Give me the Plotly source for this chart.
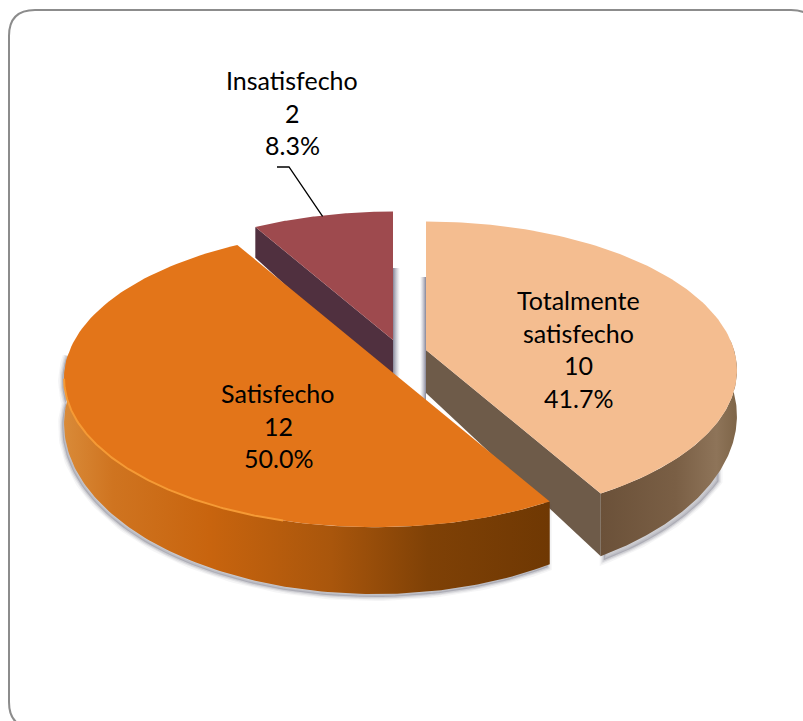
import math
import plotly.graph_objects as go

# --- data ---
categories = ["Totalmente satisfecho", "Satisfecho", "Insatisfecho"]
label_lines = [["Totalmente", "satisfecho"], ["Satisfecho"], ["Insatisfecho"]]
values = [10, 12, 2]

# --- projection of the tilted pie (pixel canvas) ---
W, H = 803, 721
RX, RY, K = 308, 146, 0.137
H0 = 43
tips = {"Totalmente satisfecho": (426, 350), "Satisfecho": (375, 358), "Insatisfecho": (393, 340)}

total = sum(values)
spans, start = {}, 0.0
for c, v in zip(categories, values):
    spans[c] = (start, start + 360.0 * v / total)
    start += 360.0 * v / total


def top(c, deg):
    t = math.radians(deg)
    u, v = math.sin(t), -math.cos(t)
    w = 1 - K * v
    return tips[c][0] + RX * u / w, tips[c][1] + RY * v / w


def depth(deg):
    v = -math.cos(math.radians(deg))
    return H0 / (1 - K * v) ** 3


def arc(c, a, b, n=120):
    return [a + (b - a) * i / n for i in range(n + 1)]


def poly(fig, pts, color=None, grad=None, line=None):
    xs = [p[0] for p in pts] + [pts[0][0]]
    ys = [p[1] for p in pts] + [pts[0][1]]
    kw = dict(x=xs, y=ys, mode="lines", fill="toself", hoverinfo="skip", showlegend=False,
              line=line or dict(width=0))
    if grad:
        kw["fillgradient"] = dict(type="horizontal", colorscale=grad)
    else:
        kw["fillcolor"] = color
    fig.add_trace(go.Scatter(**kw))


def shadow(fig, pts, dx, dy):
    xs = [p[0] + dx for p in pts] + [pts[0][0] + dx]
    ys = [p[1] + dy for p in pts] + [pts[0][1] + dy]
    for width, alpha in ((8, 0.05), (5, 0.08), (2.5, 0.12)):
        fig.add_trace(go.Scatter(x=xs, y=ys, mode="lines", hoverinfo="skip", showlegend=False,
                                 fill="toself", fillcolor=f"rgba(60,60,80,{alpha})",
                                 line=dict(color=f"rgba(60,60,80,{alpha})", width=width)))


def solid_outline(c, a, b):
    up = [top(c, d) for d in arc(c, a, b)]
    low = [(top(c, d)[0], top(c, d)[1] + depth(d)) for d in arc(c, a, b)]
    return up, low


fig = go.Figure()

# Insatisfecho (behind)
c = "Insatisfecho"
a, b = spans[c]
up, low = solid_outline(c, a, b)
tip = tips[c]
tipb = (tip[0], tip[1] + H0)
poly(fig, [(tip[0], tip[1] - 72), (tip[0] + 7, tip[1] - 72), (tip[0] + 7, tipb[1] - 8), (tip[0], tipb[1])],
     grad=[[0, "rgba(120,120,140,0.9)"], [1, "rgba(170,170,185,0)"]])
poly(fig, [up[0], tip, tipb, low[0]], color="#50303F")
poly(fig, up + [tip], color="#9E4A4E")

# Totalmente satisfecho
c = "Totalmente satisfecho"
a, b = spans[c]
tip = tips[c]
tipb = (tip[0], tip[1] + H0)
up, low = solid_outline(c, 86, b)
corner_b = low[-1]
poly(fig, [(tip[0] - 6, tip[1] - 73), (tip[0], tip[1] - 73), (tip[0], tipb[1] + 10), (tip[0] - 6, tipb[1] + 2)],
     grad=[[0, "rgba(170,170,185,0)"], [1, "rgba(120,120,140,0.9)"]])
shadow(fig, up[:60:-1][::-1] + low[::-1][:60], 3, 4)
poly(fig, up + low[::-1], grad=[[0, "#6B5139"], [0.55, "#7A5F45"], [0.85, "#8E7459"], [1, "#7E6548"]])
poly(fig, [tip, up[-1], corner_b, tipb], color="#6E5B49")
up_all = [top(c, d) for d in arc(c, a, b)]
poly(fig, up_all + [tip], color="#F4BD90")

# Satisfecho (front)
c = "Satisfecho"
a, b = spans[c]
up, low = solid_outline(c, a, 272)
shadow(fig, up + low[::-1], -2, 3)
poly(fig, up + low[::-1], grad=[[0, "#D98A38"], [0.1, "#CF7420"], [0.3, "#C8640E"],
                                [0.55, "#A9560C"], [0.75, "#7F4106"], [1, "#6F3803"]])
up_all = [top(c, d) for d in arc(c, a, b)]
poly(fig, up_all + [tips[c]], color="#E37519")
hi = [top(c, d) for d in arc(c, 195, 262)]
fig.add_trace(go.Scatter(x=[p[0] for p in hi], y=[p[1] for p in hi], mode="lines", hoverinfo="skip",
                         showlegend=False, line=dict(color="#F59A35", width=2)))

# Leader line of the outside label (goes from the slice rim to the label)
ld = top("Insatisfecho", 345)
lead_x = [ld[0], 289, 277]
lead_y = [ld[1] + 1, 167, 167]
fig.add_trace(go.Scatter(x=lead_x, y=lead_y, mode="lines", hoverinfo="skip", showlegend=False,
                         line=dict(color="#000000", width=1.3)))

# Labels
anchors = {"Totalmente satisfecho": (578, 300), "Satisfecho": (278, 393), "Insatisfecho": (292, 80)}
annotations = []
STEP = 32.5
for c, names, v in zip(categories, label_lines, values):
    lines = names + [str(v), f"{100 * v / total:.1f}%"]
    x0, y0 = anchors[c]
    for i, t in enumerate(lines):
        annotations.append(dict(x=x0, y=y0 + i * STEP, xref="x", yref="y", text=t, showarrow=False,
                                xanchor="center", yanchor="middle",
                                font=dict(family="Lato", size=25, color="#000000")))

# Rounded frame (runs past the right and bottom edges of the picture)
L, T, R_, B, r = 9, 10, 817, 728, 26
frame = (f"M{L + r},{T} L{R_ - r},{T} Q{R_},{T} {R_},{T + r} L{R_},{B - r} Q{R_},{B} {R_ - r},{B} "
         f"L{L + r},{B} Q{L},{B} {L},{B - r} L{L},{T + r} Q{L},{T} {L + r},{T} Z")

fig.update_layout(
    width=W, height=H, margin=dict(l=0, r=0, t=0, b=0), autosize=False,
    paper_bgcolor="white", plot_bgcolor="white", showlegend=False,
    xaxis=dict(range=[0, W], visible=False, fixedrange=True),
    yaxis=dict(range=[H, 0], visible=False, fixedrange=True),
    shapes=[dict(type="path", path=frame, xref="x", yref="y", line=dict(color="#8C8C8C", width=2))],
    annotations=annotations,
)
fig.write_html("out.html", config={"displayModeBar": False},
               post_script="document.body.style.margin='0';document.documentElement.style.overflow='hidden';")
